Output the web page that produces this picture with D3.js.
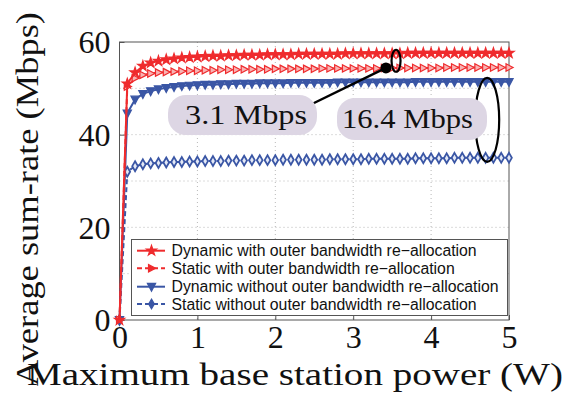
<!DOCTYPE html>
<html>
<head>
<meta charset="utf-8">
<script src="https://cdn.jsdelivr.net/npm/d3@7"></script>
<style>
  html, body { margin: 0; padding: 0; background: #fff; }
  svg { display: block; }
</style>
</head>
<body>
<svg id="chart" width="568" height="396"></svg>
<script>
// Maximum base station power (W)
const power = [0,0.1,0.2,0.3,0.4,0.5,0.6,0.7,0.8,0.9,1.0,1.1,1.2,1.3,1.4,1.5,1.6,1.7,1.8,1.9,2.0,
  2.1,2.2,2.3,2.4,2.5,2.6,2.7,2.8,2.9,3.0,3.1,3.2,3.3,3.4,3.5,3.6,3.7,3.8,3.9,4.0,
  4.1,4.2,4.3,4.4,4.5,4.6,4.7,4.8,4.9,5.0];

// Average sum-rate (Mbps) per scheme
const dynamicWith = [0,51.0,53.4,54.8,55.5,55.9,56.2,56.4,56.6,56.7,56.8,56.9,57.0,57.0,57.1,57.1,57.2,57.2,57.2,57.3,57.3,
  57.3,57.3,57.4,57.4,57.4,57.4,57.4,57.4,57.5,57.5,57.5,57.5,57.5,57.5,57.5,57.5,57.6,57.6,57.6,57.6,
  57.6,57.6,57.6,57.6,57.6,57.6,57.6,57.6,57.6,57.6];
const staticWith = [0,50.4,52.2,52.9,53.2,53.4,53.5,53.6,53.7,53.8,53.8,53.9,53.9,54.0,54.0,54.0,54.1,54.1,54.1,54.1,54.2,
  54.2,54.2,54.2,54.2,54.2,54.3,54.3,54.3,54.3,54.3,54.3,54.3,54.3,54.4,54.4,54.4,54.4,54.4,54.4,54.4,
  54.4,54.5,54.5,54.5,54.5,54.5,54.5,54.5,54.5,54.5];
const dynamicWithout = [0,44.6,47.6,48.8,49.4,49.8,50.1,50.3,50.5,50.6,50.7,50.8,50.8,50.9,50.9,51.0,51.0,51.0,51.1,51.1,51.1,
  51.1,51.2,51.2,51.2,51.2,51.2,51.2,51.3,51.3,51.3,51.3,51.3,51.3,51.3,51.3,51.3,51.3,51.4,51.4,51.4,
  51.4,51.4,51.4,51.4,51.4,51.4,51.4,51.4,51.4,51.4];
const staticWithout = [0,32.0,33.2,33.6,33.8,33.9,34.0,34.1,34.1,34.2,34.2,34.3,34.3,34.3,34.4,34.4,34.4,34.5,34.5,34.5,34.5,
  34.6,34.6,34.6,34.6,34.6,34.6,34.7,34.7,34.7,34.7,34.7,34.8,34.8,34.8,34.8,34.8,34.8,34.9,34.9,34.9,
  34.9,34.9,35.0,35.0,35.0,35.0,35.0,35.0,35.0,35.0];

const seriesNames = [
  "Dynamic with outer bandwidth re\u2212allocation",
  "Static with outer bandwidth re\u2212allocation",
  "Dynamic without outer bandwidth re\u2212allocation",
  "Static without outer bandwidth re\u2212allocation"
];
const xTicks = [0, 1, 2, 3, 4, 5];
const yTicks = [0, 20, 40, 60];
const yGrid = [10, 20, 30, 40, 50];
const gapLabels = ["3.1 Mbps", "16.4 Mbps"];

const RED = "#ef2b2d", BLUE = "#3a56a5";

const svg = d3.select("#chart");
const L = 119.5, R = 509, T = 42, B = 320;
const x = d3.scaleLinear().domain([0, 5]).range([L, R]);
const y = d3.scaleLinear().domain([0, 60]).range([B, T]);

// grid
const grid = svg.append("g").attr("stroke", "#b8b8b8").attr("stroke-width", 1)
  .attr("stroke-dasharray", "1,3");
grid.selectAll("line.gx").data(xTicks.slice(1, -1)).join("line")
  .attr("x1", d => x(d)).attr("x2", d => x(d)).attr("y1", T).attr("y2", B);
grid.selectAll("line.gy").data(yGrid).join("line")
  .attr("y1", d => y(d)).attr("y2", d => y(d)).attr("x1", L).attr("x2", R);

// axes
const serif = "'Liberation Serif', 'DejaVu Serif', serif";
const xAxis = svg.append("g").attr("transform", `translate(0,${B})`)
  .call(d3.axisBottom(x).tickValues(xTicks).tickSize(-5).tickPadding(6).tickFormat(d3.format("d")));
const yAxis = svg.append("g").attr("transform", `translate(${L},0)`)
  .call(d3.axisLeft(y).tickValues(yTicks).tickSize(-5).tickPadding(9).tickFormat(d3.format("d")));
[xAxis, yAxis].forEach(a => {
  a.select(".domain").remove();
  a.selectAll(".tick line").attr("stroke", "#555");
  a.selectAll("text").attr("font-family", serif).attr("font-size", 32).attr("fill", "#111");
});
xAxis.selectAll("text").attr("dy", "0.7em");
yAxis.selectAll("text").attr("dy", "0.34em");

// frame
svg.append("rect").attr("x", L).attr("y", T).attr("width", R - L).attr("height", B - T)
  .attr("fill", "none").attr("stroke", "#555").attr("stroke-width", 1);

// series
const rows = [dynamicWith, staticWith, dynamicWithout, staticWithout];
const styles = [
  { color: RED, dash: null, sym: d3.symbolStar, size: 32, fill: RED },
  { color: RED, dash: "5,3", sym: "triR", size: 36, fill: "#f8b4b4" },
  { color: BLUE, dash: null, sym: "triD", size: 44, fill: BLUE },
  { color: BLUE, dash: "5,3", sym: d3.symbolDiamond, size: 28, fill: "#e4e9f6" }
];
function markerPath(s) {
  if (s.sym === "triR") {
    const r = Math.sqrt(s.size) * 0.62;
    return `M${-r * 0.8},${-r}L${r * 1.1},0L${-r * 0.8},${r}Z`;
  }
  if (s.sym === "triD") {
    const r = Math.sqrt(s.size) * 0.62;
    return `M${-r},${-r * 0.8}L${r},${-r * 0.8}L0,${r * 1.1}Z`;
  }
  return d3.symbol(s.sym, s.size)();
}
const line = d3.line().x((d, i) => x(power[i])).y(d => y(d));
const plot = svg.append("g");
rows.slice().reverse().forEach((vals, ri) => {
  const k = rows.length - 1 - ri, s = styles[k];
  const g = plot.append("g");
  g.append("path").datum(vals).attr("d", line).attr("fill", "none")
    .attr("stroke", s.color).attr("stroke-width", 2).attr("stroke-dasharray", s.dash);
  g.selectAll("path.m").data(vals).join("path").attr("class", "m")
    .attr("transform", (d, i) => `translate(${x(power[i])},${y(d)})`)
    .attr("d", markerPath(s)).attr("fill", s.fill).attr("stroke", s.color)
    .attr("stroke-width", k === 3 ? 1.8 : 1.2);
});

// annotation: gap between the two red curves
const ann = svg.append("g");
ann.append("line").attr("x1", x(3.42)).attr("y1", y(54.4)).attr("x2", 312).attr("y2", 104)
  .attr("stroke", "#000").attr("stroke-width", 2.5);
ann.append("circle").attr("cx", x(3.42)).attr("cy", y(54.4)).attr("r", 5.5).attr("fill", "#000");
ann.append("ellipse").attr("cx", x(3.55)).attr("cy", y((dynamicWith[35] + staticWith[35]) / 2))
  .attr("rx", 4.5).attr("ry", 11).attr("fill", "none").attr("stroke", "#000").attr("stroke-width", 2.2);
// annotation: gap between the two blue curves
ann.append("ellipse").attr("cx", x(4.72)).attr("cy", y((dynamicWithout[47] + staticWithout[47]) / 2))
  .attr("rx", 12).attr("ry", 42).attr("fill", "none").attr("stroke", "#000").attr("stroke-width", 2.2);

const bubbles = [
  { x: 168, y: 95, w: 149, h: 40, tx: 185, tw: 122 },
  { x: 337, y: 98, w: 150, h: 42, tx: 342, tw: 131 }
];
bubbles.forEach((b, i) => {
  ann.append("rect").attr("x", b.x).attr("y", b.y).attr("width", b.w).attr("height", b.h)
    .attr("rx", 18).attr("fill", "#ddd6e4");
  ann.append("text").attr("x", b.tx).attr("y", b.y + b.h / 2 + 9)
    .attr("font-family", serif).attr("font-size", 27).attr("fill", "#111")
    .attr("textLength", b.tw).attr("lengthAdjust", "spacingAndGlyphs").text(gapLabels[i]);
});

// legend
const lg = svg.append("g");
lg.append("rect").attr("x", 131.5).attr("y", 239.5).attr("width", 376).attr("height", 76)
  .attr("fill", "#fff").attr("stroke", "#555").attr("stroke-width", 1);
const rowY = [250.7, 268.3, 286.7, 304];
seriesNames.forEach((name, i) => {
  const s = styles[i], yy = rowY[i];
  lg.append("line").attr("x1", 137).attr("x2", 165).attr("y1", yy).attr("y2", yy)
    .attr("stroke", s.color).attr("stroke-width", 2).attr("stroke-dasharray", s.dash);
  lg.append("path").attr("transform", `translate(151.5,${yy})`).attr("d", markerPath(s))
    .attr("fill", s.color).attr("stroke", s.color).attr("stroke-width", 1.2);
  lg.append("text").attr("x", 171.5).attr("y", yy + 5.5)
    .attr("font-family", "'Liberation Sans', Arial, sans-serif").attr("font-size", 15.8)
    .attr("fill", "#111").text(name);
});

// axis titles
svg.append("text").attr("x", 295).attr("y", 385).attr("text-anchor", "middle")
  .attr("font-family", serif).attr("font-size", 32).attr("fill", "#111")
  .attr("textLength", 536).attr("lengthAdjust", "spacingAndGlyphs")
  .text("Maximum base station power (W)");
svg.append("text").attr("transform", "translate(38,199) rotate(-90)").attr("text-anchor", "middle")
  .attr("font-family", serif).attr("font-size", 32).attr("fill", "#111")
  .attr("textLength", 374).attr("lengthAdjust", "spacingAndGlyphs")
  .text("Average sum-rate (Mbps)");
</script>
</body>
</html>
